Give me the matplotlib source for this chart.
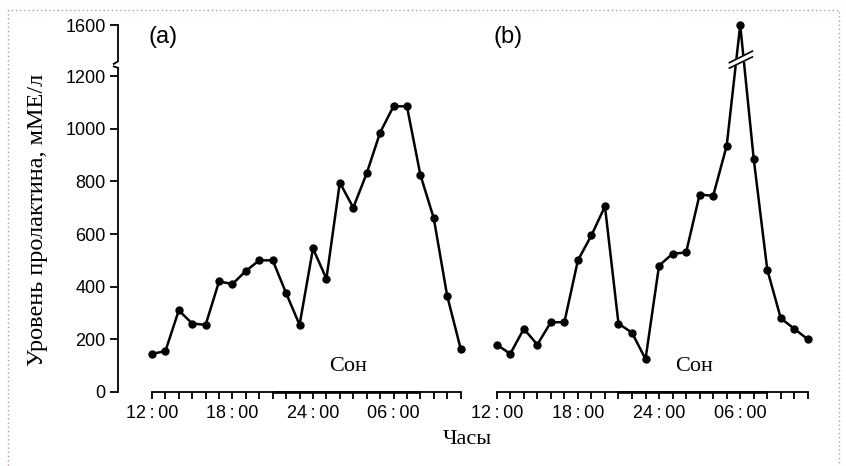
import numpy as np
import matplotlib.pyplot as plt
from matplotlib.patches import Rectangle

# Hourly samples, 12:00 through 11:00 next day
hours = list(range(24))
tick_hours = [0, 6, 12, 18]
tick_labels = ['12\u2009:\u200900', '18\u2009:\u200900', '24\u2009:\u200900', '06\u2009:\u200900']

prolactin_a = [145, 155, 310, 260, 255, 420, 410, 460, 500, 500, 375, 255,
               545, 430, 795, 700, 830, 985, 1085, 1085, 825, 660, 365, 165]
prolactin_b = [180, 145, 240, 180, 265, 265, 500, 595, 705, 260, 225, 125,
               480, 525, 530, 750, 745, 935, 1600, 885, 465, 280, 240, 200]

y_ticks = [0, 200, 400, 600, 800, 1000, 1200, 1600]
sleep_span = (9, 20)

SANS = ['Liberation Sans', 'DejaVu Sans']
SERIF = ['Liberation Serif', 'DejaVu Serif']

# compressed scale above the axis break
BREAK = 1200
K = 0.484


def fwd(v):
    v = np.asarray(v, dtype=float)
    return np.where(v <= BREAK, v, BREAK + (v - BREAK) * K)


def inv(u):
    u = np.asarray(u, dtype=float)
    return np.where(u <= BREAK, u, BREAK + (u - BREAK) / K)


W, H = 846, 466
fig = plt.figure(figsize=(W / 100, H / 100), dpi=100)
ax1 = fig.add_axes([118 / W, 74 / H, 352 / W, 369.5 / H])
ax2 = fig.add_axes([490 / W, 74 / H, 330 / W, 369.5 / H])

for ax, data, xlim in [(ax1, prolactin_a, (-2.53, 23.7)), (ax2, prolactin_b, (-0.5, 23.9))]:
    ax.set_yscale('function', functions=(fwd, inv))
    ax.set_ylim(0, 1620)
    ax.set_xlim(*xlim)
    ax.plot(hours, data, color='black', lw=1.8, marker='o', markersize=5, clip_on=False, zorder=3)
    for s in ['top', 'right']:
        ax.spines[s].set_visible(False)
    ax.spines['bottom'].set_bounds(0, 23)
    ax.spines['bottom'].set_linewidth(1.3)
    ax.plot(sleep_span, [0, 0], color='black', lw=1.9, solid_capstyle='butt', clip_on=False, zorder=4)
    ax.set_xticks(hours)
    ax.set_xticklabels([tick_labels[tick_hours.index(h)] if h in tick_hours else '' for h in hours],
                       fontfamily=SANS, fontsize=13)
    ax.tick_params(axis='x', direction='out', length=5, width=1.3, pad=4)
    ax.text(14.6, 95, 'Сон', ha='center', va='center', fontfamily=SERIF, fontsize=16)
    ax.patch.set_visible(False)

# left axis with a break between 1200 and 1600
ax1.spines['left'].set_bounds(0, 1265)
ax1.spines['left'].set_linewidth(1.3)
ax1.set_yticks(y_ticks)
ax1.set_yticklabels([str(t) for t in y_ticks], fontfamily=SANS, fontsize=13)
ax1.tick_params(axis='y', direction='out', length=6, width=1.3, pad=3)
yt = ax1.get_yaxis_transform()
ax1.plot([0, 0, -0.012], [1600, 1315, 1295], color='black', lw=1.3, transform=yt, clip_on=False)
ax1.plot([-0.012, 0], [1275, 1265], color='black', lw=1.3, transform=yt, clip_on=False)

ax2.spines['left'].set_visible(False)
ax2.set_yticks([])

# break mark on the peak of (b)
ax2.fill([17.2, 18.9, 18.9, 17.2], [1262, 1350, 1395, 1305], color='white', zorder=5, clip_on=False)
ax2.plot([17.2, 18.9], [1262, 1350], color='black', lw=1.2, zorder=6, clip_on=False)
ax2.plot([17.2, 18.9], [1305, 1395], color='black', lw=1.2, zorder=6, clip_on=False)

fig.text(163 / W, 1 - 37 / H, '(a)', ha='center', va='center', fontfamily=SANS, fontsize=17)
fig.text(508 / W, 1 - 37 / H, '(b)', ha='center', va='center', fontfamily=SANS, fontsize=17)
fig.text(467 / W, 1 - 440 / H, 'Часы', ha='center', va='center', fontfamily=SERIF, fontsize=16)
fig.text(38 / W, 1 - 220 / H, 'Уровень пролактина, мМЕ/л', ha='center', va='center',
         rotation=90, fontfamily=SERIF, fontsize=17.5)

fig.patches.append(Rectangle((8 / W, -0.1), 831 / W, 1.1 - 10 / H, transform=fig.transFigure,
                             fill=False, linestyle=(0, (1, 2)), edgecolor='#d4908a', lw=1))

fig.savefig('out.png', dpi=100)
